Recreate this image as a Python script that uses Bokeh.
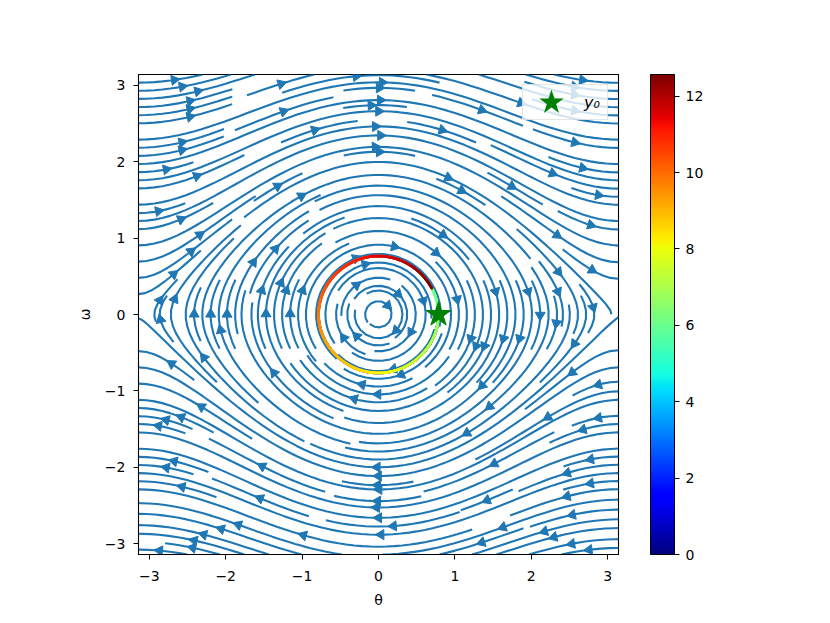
import numpy as np
from bokeh.plotting import figure
from bokeh.models import (ColorBar, LinearColorMapper, FixedTicker, Legend, LegendItem,
                          CustomJSTickFormatter, Range1d)
from bokeh.embed import file_html
from bokeh.resources import INLINE

# ---------------- data ----------------
theta_lim = [-np.pi, np.pi]
omega_lim = [-np.pi, np.pi]
grid_n = 100
stream_density = 2
y0 = [np.pi / 4, 0.0]
t_end = 4 * np.pi
n_t = 1000
axis_ticks = [-3, -2, -1, 0, 1, 2, 3]
cbar_ticks = [0, 2, 4, 6, 8, 10, 12]
x_label = "θ"
y_label = "ω"
legend_label = "y₀"


def pendulum(theta, omega):
    return omega, -np.sin(theta)


# ---------------- jet colormap ----------------
def jet_palette(n=256):
    xs = np.linspace(0, 1, n)
    r = np.interp(xs, [0, 0.35, 0.66, 0.89, 1], [0, 0, 1, 1, 0.5])
    g = np.interp(xs, [0, 0.125, 0.375, 0.64, 0.91, 1], [0, 0, 1, 1, 0, 0])
    b = np.interp(xs, [0, 0.11, 0.34, 0.65, 1], [0.5, 1, 1, 0, 0])
    return ["#%02x%02x%02x" % (int(round(a * 255)), int(round(c * 255)), int(round(d * 255)))
            for a, c, d in zip(r, g, b)]


JET = jet_palette()


# ---------------- streamplot (port of matplotlib's algorithm) ----------------
class _Stop(Exception):
    pass


class _OOB(Exception):
    pass


class _Term(Exception):
    pass


def streamlines(xv, yv, U, V, density=1.0, minlength=0.1, maxlength=4.0):
    gnx, gny = len(xv), len(yv)
    dxg = xv[1] - xv[0]
    dyg = yv[1] - yv[0]
    mnx = mny = int(30 * density)
    mask = np.zeros((mny, mnx), dtype=int)
    state = {"cur": None, "traj": []}
    xg2m = (mnx - 1) / (gnx - 1)
    yg2m = (mny - 1) / (gny - 1)
    ug = U / dxg
    vg = V / dyg
    speed = np.sqrt((ug / (gnx - 1)) ** 2 + (vg / (gny - 1)) ** 2)
    ugl, vgl, spl = ug.tolist(), vg.tolist(), speed.tolist()
    maxlength = maxlength / 2.0

    def within(xi, yi):
        return 0 <= xi <= gnx - 1 and 0 <= yi <= gny - 1

    def interp(a, xi, yi):
        x = int(xi)
        y = int(yi)
        xn = x if x == gnx - 1 else x + 1
        yn = y if y == gny - 1 else y + 1
        xt = xi - x
        yt = yi - y
        a0 = a[y][x] * (1 - xt) + a[y][xn] * xt
        a1 = a[yn][x] * (1 - xt) + a[yn][xn] * xt
        return a0 * (1 - yt) + a1 * yt

    def g2m(xi, yi):
        return int(round(xi * xg2m)), int(round(yi * yg2m))

    def update_m(xm, ym):
        if state["cur"] != (xm, ym):
            if mask[ym, xm] == 0:
                state["traj"].append((ym, xm))
                mask[ym, xm] = 1
                state["cur"] = (xm, ym)
            else:
                raise _Stop

    def update(xi, yi):
        if not within(xi, yi):
            raise _Stop
        xm, ym = g2m(xi, yi)
        update_m(xm, ym)

    def f_fwd(xi, yi):
        if not within(xi, yi):
            raise _OOB
        s = interp(spl, xi, yi)
        if s == 0:
            raise _Term
        return interp(ugl, xi, yi) / s, interp(vgl, xi, yi) / s

    def f_bwd(xi, yi):
        a, b = f_fwd(xi, yi)
        return -a, -b

    def euler(traj, f):
        xi, yi = traj[-1]
        cx, cy = f(xi, yi)
        if cx == 0:
            dsx = np.inf
        elif cx < 0:
            dsx = xi / -cx
        else:
            dsx = (gnx - 1 - xi) / cx
        if cy == 0:
            dsy = np.inf
        elif cy < 0:
            dsy = yi / -cy
        else:
            dsy = (gny - 1 - yi) / cy
        ds = min(dsx, dsy)
        traj.append((xi + cx * ds, yi + cy * ds))
        return ds, traj

    def rk12(x0, y0_, f):
        maxerror = 0.003
        maxds = min(1.0 / mnx, 1.0 / mny, 0.1)
        ds = maxds
        stotal = 0.0
        xi, yi = x0, y0_
        traj = []
        while True:
            try:
                if within(xi, yi):
                    traj.append((xi, yi))
                else:
                    raise _OOB
                k1x, k1y = f(xi, yi)
                k2x, k2y = f(xi + ds * k1x, yi + ds * k1y)
            except _OOB:
                if traj:
                    d, traj = euler(traj, f)
                    stotal += d
                break
            except _Term:
                break
            dx1 = ds * k1x
            dy1 = ds * k1y
            dx2 = ds * 0.5 * (k1x + k2x)
            dy2 = ds * 0.5 * (k1y + k2y)
            err = np.hypot((dx2 - dx1) / (gnx - 1), (dy2 - dy1) / (gny - 1))
            if err < maxerror:
                xi += dx2
                yi += dy2
                try:
                    update(xi, yi)
                except _Stop:
                    break
                if stotal + ds > maxlength:
                    break
                stotal += ds
            if err == 0:
                ds = maxds
            else:
                ds = min(maxds, 0.85 * ds * (maxerror / err) ** 0.5)
        return stotal, traj

    def integrate(x0, y0_):
        state["traj"] = []
        try:
            update_m(*g2m(x0, y0_))
        except _Stop:
            return None
        stotal = 0.0
        xy = []
        s, t = rk12(x0, y0_, f_bwd)
        stotal += s
        xy += t[::-1]
        state["cur"] = g2m(x0, y0_)
        s, t = rk12(x0, y0_, f_fwd)
        stotal += s
        xy += t[1:]
        if stotal > minlength:
            return xy
        for c in state["traj"]:
            mask[c] = 0
        return None

    def starts(ny, nx):
        xfirst, yfirst, xlast, ylast = 0, 1, nx - 1, ny - 1
        x = y = 0
        direction = "right"
        for _ in range(nx * ny):
            yield x, y
            if direction == "right":
                x += 1
                if x >= xlast:
                    xlast -= 1
                    direction = "up"
            elif direction == "up":
                y += 1
                if y >= ylast:
                    ylast -= 1
                    direction = "left"
            elif direction == "left":
                x -= 1
                if x <= xfirst:
                    xfirst += 1
                    direction = "down"
            else:
                y -= 1
                if y <= yfirst:
                    yfirst += 1
                    direction = "right"

    lines_x, lines_y, arrows = [], [], []
    for xm, ym in starts(mny, mnx):
        if mask[ym, xm] == 0:
            t = integrate(xm / xg2m, ym / yg2m)
            if t is None:
                continue
            arr = np.array(t)
            tx = arr[:, 0] * dxg + xv[0]
            ty = arr[:, 1] * dyg + yv[0]
            lines_x.append(tx.tolist())
            lines_y.append(ty.tolist())
            s = np.cumsum(np.hypot(np.diff(tx), np.diff(ty)))
            n = int(np.searchsorted(s, s[-1] / 2.0))
            hx, hy = np.mean(tx[n:n + 2]), np.mean(ty[n:n + 2])
            ang = np.arctan2(hy - ty[n], hx - tx[n])
            arrows.append((hx, hy, ang))
    return lines_x, lines_y, arrows


theta = np.linspace(theta_lim[0], theta_lim[1], grid_n)
omega = np.linspace(omega_lim[0], omega_lim[1], grid_n)
TH, OM = np.meshgrid(theta, omega)
U, V = pendulum(TH, OM)
sx, sy, arrows = streamlines(theta, omega, U, V, density=stream_density)

# ---------------- trajectory from y0 ----------------
t = np.linspace(0, t_end, n_t)
traj = [np.array(y0, dtype=float)]
sub = 10
for i in range(1, n_t):
    h = (t[i] - t[i - 1]) / sub
    s = traj[-1].copy()
    for _ in range(sub):
        k1 = np.array(pendulum(*s))
        k2 = np.array(pendulum(*(s + h / 2 * k1)))
        k3 = np.array(pendulum(*(s + h / 2 * k2)))
        k4 = np.array(pendulum(*(s + h * k3)))
        s = s + h / 6 * (k1 + 2 * k2 + 2 * k3 + k4)
    traj.append(s)
traj = np.array(traj)
seg_x = [[traj[i, 0], traj[i + 1, 0]] for i in range(n_t - 1)]
seg_y = [[traj[i, 1], traj[i + 1, 1]] for i in range(n_t - 1)]
seg_c = [JET[min(255, int(0.5 * (t[i] + t[i + 1]) / t_end * 256))] for i in range(n_t - 1)]

# ---------------- figure ----------------
FONT = "DejaVu Sans"
p = figure(frame_width=480, frame_height=480,
           x_range=Range1d(theta_lim[0], theta_lim[1]),
           y_range=Range1d(omega_lim[0], omega_lim[1]),
           output_backend="svg", toolbar_location=None,
           min_border_left=138, min_border_top=74, min_border_bottom=55, min_border_right=20,
           background_fill_color="white", border_fill_color="white")
p.grid.visible = False
p.outline_line_color = "black"
p.outline_line_width = 1.1

p.multi_line(sx, sy, line_color="#1f77b4", line_width=2.1)
p.scatter([a[0] for a in arrows], [a[1] for a in arrows], marker="triangle",
          angle=[a[2] - np.pi / 2 for a in arrows], size=10, fill_color="#1f77b4",
          line_color="#1f77b4", line_width=1)
p.multi_line(seg_x, seg_y, line_color=seg_c, line_width=2.8, line_cap="round")
star = p.scatter([y0[0]], [y0[1]], marker="star", size=26, fill_color="green", line_color="green")
leg_star = p.scatter([np.nan], [np.nan], marker="star", size=10, fill_color="green",
                     line_color="green", line_width=4.5, line_join="miter")

fmt = CustomJSTickFormatter(code="return tick < 0 ? '\\u2212' + Math.abs(tick) : String(tick);")
for ax in (p.xaxis[0], p.yaxis[0]):
    ax.ticker = FixedTicker(ticks=axis_ticks)
    ax.formatter = fmt
    ax.major_label_text_font = FONT
    ax.major_label_text_font_size = "14px"
    ax.major_label_text_color = "black"
    ax.major_tick_out = 5
    ax.major_tick_in = 0
    ax.minor_tick_line_color = None
    ax.major_tick_line_color = "black"
    ax.axis_line_color = "black"
    ax.axis_label_text_font = FONT
    ax.axis_label_text_font_size = "14px"
    ax.axis_label_text_font_style = "normal"
    ax.axis_label_text_color = "black"
p.xaxis[0].axis_label = x_label
p.yaxis[0].axis_label = y_label
p.xaxis[0].major_label_standoff = 11
p.yaxis[0].major_label_standoff = 8
p.xaxis[0].axis_label_standoff = 8
p.yaxis[0].axis_label_standoff = 9

mapper = LinearColorMapper(palette=JET, low=0, high=t_end)
cb = ColorBar(color_mapper=mapper, ticker=FixedTicker(ticks=cbar_ticks), width=24,
              padding=0, margin=0, location=(32, 0), bar_line_color="black", bar_line_width=1,
              major_tick_out=5, major_tick_in=0, major_tick_line_color="black",
              minor_tick_line_color=None,
              major_label_text_font=FONT, major_label_text_font_size="14px",
              major_label_text_color="black", label_standoff=6,
              border_line_color=None, background_fill_color=None)
p.add_layout(cb, "right")

legend = Legend(items=[LegendItem(label=legend_label, renderers=[leg_star])],
                location="top_right", glyph_width=50, glyph_height=28,
                label_text_font=FONT, label_text_font_size="16px",
                label_text_color="black",
                label_text_font_style="italic", border_line_color="#cccccc",
                border_line_width=1, background_fill_alpha=0.8, margin=10,
                padding=3, spacing=0, label_standoff=8)
p.add_layout(legend)

open("out.html", "w").write(file_html(p, INLINE))
